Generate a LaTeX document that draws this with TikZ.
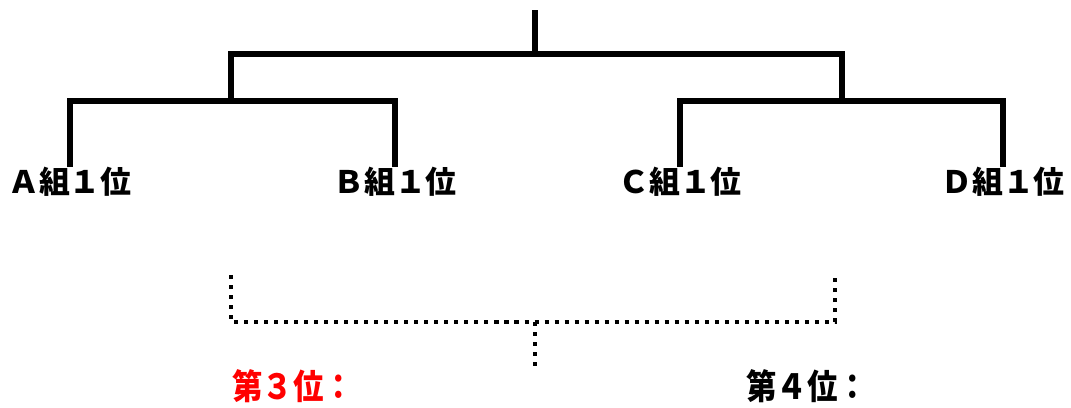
\documentclass[tikz,border=0pt]{standalone}
\usepackage{fontspec}
\setmainfont{Noto Sans CJK JP}
\usepackage{tikz}
\begin{document}
\begin{tikzpicture}[x=0.02cm,y=-0.02cm,
  bracket/.style={line width=2.9pt},
  semidots/.style={line width=2.3pt,dash pattern=on 2.3pt off 3.4pt},
  team/.style={font=\fontsize{17.6pt}{20pt}\selectfont\bfseries,inner sep=0pt,anchor=north},
  rank/.style={font=\fontsize{19.7pt}{22pt}\selectfont\bfseries,inner sep=0pt,anchor=west}]
\useasboundingbox (0,0) rectangle (1071,408);
% group winners
\node[team] (a1) at (70,167) {Ａ組１位};
\node[team] (b1) at (395,167) {Ｂ組１位};
\node[team] (c1) at (680,167) {Ｃ組１位};
\node[team] (d1) at (1003,167) {Ｄ組１位};
% semi finals
\coordinate (ab) at (231,101);
\coordinate (cd) at (842,101);
\draw[bracket] (a1.north) |- (ab) -| (b1.north);
\draw[bracket] (c1.north) |- (cd) -| (d1.north);
% final
\coordinate (fin) at (535,54);
\coordinate (top) at (535,10);
\draw[bracket] (ab) |- (fin) -| (cd);
\draw[bracket] (fin) -- (top);
% third place match
\coordinate (s1) at (231,275);
\coordinate (s2) at (835,275);
\coordinate (s0) at (535,322);
\coordinate (s3) at (535,368);
\draw[semidots] (s1) |- (s0) -| (s2);
\draw[semidots] (s0) -- (s3);
\node[rank,text=red] (p3) at (232,386) {\scalebox{0.88}[1]{第３位：}};
\node[rank] (p4) at (746,386) {\scalebox{0.88}[1]{第４位：}};
\end{tikzpicture}
\end{document}
